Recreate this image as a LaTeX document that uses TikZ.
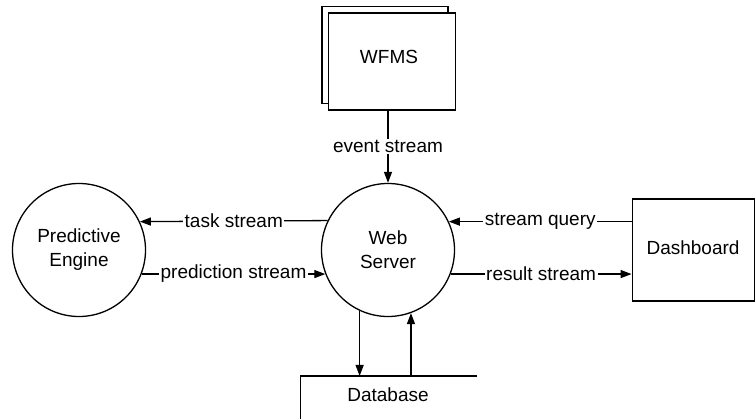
\documentclass[tikz,border=0pt]{standalone}
\usepackage{fontspec}
\setmainfont{Liberation Sans}
\usetikzlibrary{arrows.meta}
\begin{document}
\begin{tikzpicture}[x=1pt,y=-1pt,
  every node/.style={font=\fontsize{19}{24}\selectfont},
  proc/.style={draw,circle,line width=1.3pt,minimum size=133pt,inner sep=0pt,align=center},
  ent/.style={draw,rectangle,line width=1.3pt,fill=white,inner sep=0pt},
  flow/.style={line width=1.3pt,-{Triangle[length=11pt,width=8pt]}},
  plain/.style={line width=1.3pt},
  lbl/.style={fill=white,inner sep=1.5pt}]
\useasboundingbox (0,0) rectangle (755,419);

% workflow management system (stacked boxes)
\node[ent,minimum width=126pt,minimum height=97pt] (wfmsback) at (385,55) {};
\node[ent,minimum width=127pt,minimum height=97pt] (wfms) at (392,61.5) {};
\node (wfmstxt) at (389,57) {WFMS};

% processes
\node[proc] (ws) at (388,250) {Web\\Server};
\node[proc] (pe) at (79,250) {Predictive\\Engine};

% dashboard
\node[ent,minimum width=122pt,minimum height=102pt] (dash) at (693.2,250) {};
\node (dashtxt) at (693,248) {Dashboard};

% database store (open box)
\coordinate (dbtop) at (388,376);
\draw[plain] (477,376) -- (300.5,376) -- (300.5,420);
\node (db) at (388,395) {Database};

% flows
\draw[flow] (wfms.south -| ws.north) -- node[lbl] {event stream} (ws.north);
\draw[flow] (ws.154.9) -- node[lbl] {task stream} (pe.25.1);
\draw[flow] (pe.-21.2) -- node[lbl] {prediction stream} (ws.201.2);
\draw[flow] (dash.west |- ws.25.1) -- node[lbl] {stream query} (ws.25.1);
\draw[flow] (ws.-21.2) -- node[lbl] {result stream} (dash.west |- ws.-21.2);
\draw[flow] (ws.245.8) -- (ws.245.8 |- dbtop);
\draw[flow] (ws.290.4 |- dbtop) -- (ws.290.4);
\end{tikzpicture}
\end{document}
